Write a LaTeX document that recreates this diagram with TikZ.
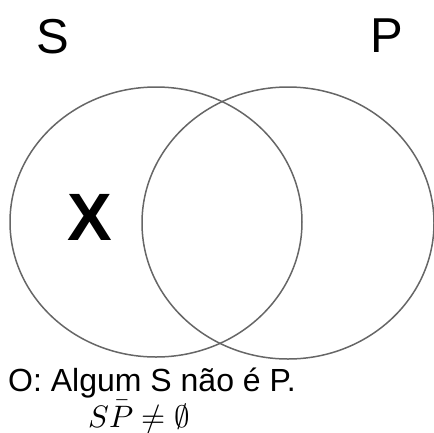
\documentclass[tikz,border=0pt]{standalone}
\usepackage{fontspec}
\usepackage{unicode-math}
\setmainfont{Liberation Sans}
\setmathfont{Latin Modern Math}
\begin{document}
\begin{tikzpicture}[x=1pt,y=-1pt,
  setline/.style={draw=black!60,line width=1.5pt},
  lbl/.style={inner sep=0pt,anchor=base west}]
\useasboundingbox (0,0) rectangle (434,432);
\draw[setline] (156,222) ellipse [x radius=146, y radius=135];
\draw[setline] (288,223) ellipse [x radius=146, y radius=136];
\node[lbl,font=\fontsize{49}{49}\selectfont] (s) at (36,53) {S};
\node[lbl,font=\fontsize{49}{49}\selectfont] (p) at (370,52) {P};
\node[lbl,font=\fontsize{67}{67}\selectfont\bfseries] (x) at (67,240) {X};
\node[lbl,font=\fontsize{32}{32}\selectfont] (o) at (8,391) {O: Algum S não é P.};
\node[lbl,font=\fontsize{31}{31}\selectfont] (m) at (88,427) {$S\bar{P}\neq\emptyset$};
\end{tikzpicture}
\end{document}
